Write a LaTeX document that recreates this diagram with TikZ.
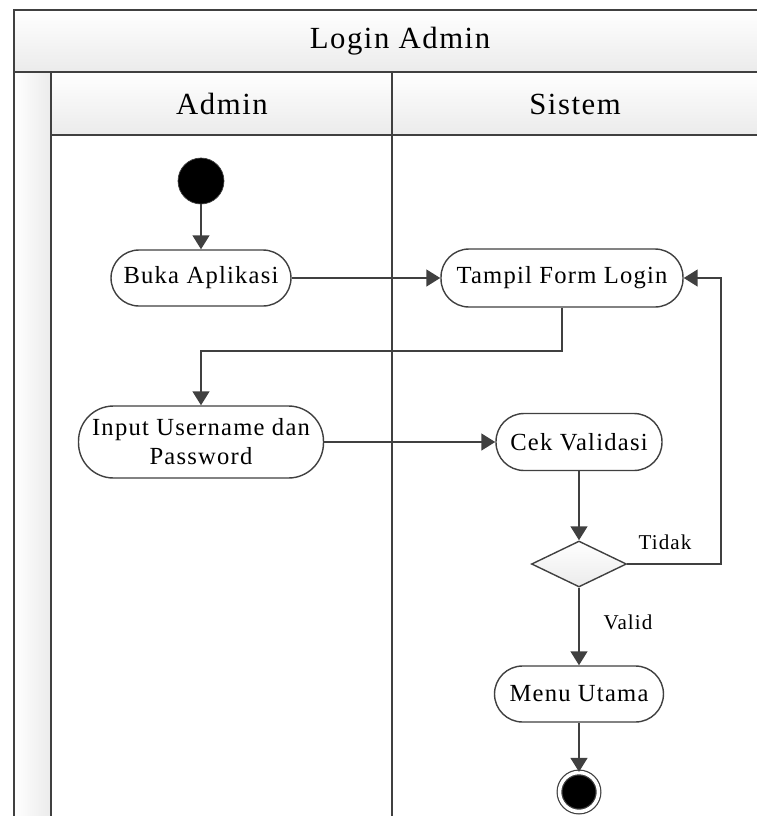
\documentclass[tikz,border=0pt]{standalone}
\usepackage{fontspec}
\setmainfont[LetterSpace=5]{Liberation Serif}
\usetikzlibrary{shapes.geometric, arrows.meta}
\definecolor{lineclr}{HTML}{404040}
\definecolor{headclr}{HTML}{EBEBEB}
\tikzset{
    activity/.style={rectangle, draw=lineclr, line width=0.8pt, fill=white,
        rounded corners=0.56cm, inner xsep=0pt, align=center,
        font=\fontsize{14}{16.5}\selectfont},
    flow/.style={draw=lineclr, line width=1.5pt, -{Triangle[length=8pt,width=9.5pt]}},
    frameline/.style={draw=lineclr, line width=1.1pt},
    guard/.style={font=\fontsize{12}{14}\selectfont},
    header/.style={font=\fontsize{17.5}{20}\selectfont}
}

\begin{document}
\begin{tikzpicture}[x=0.02cm, y=-0.02cm]
        \useasboundingbox (0,0) rectangle (757,816);

        % Draw the title band, the lane headers and the side strip
        \shade[top color=white, bottom color=headclr] (14,10) rectangle (757,72);
        \shade[top color=white, bottom color=headclr] (51,72) rectangle (757,135);
        \shade[left color=white, right color=headclr] (14,72) rectangle (51,816);
        \draw[frameline] (757,10) -- (14,10) -- (14,816);
        \draw[frameline] (14,72) -- (757,72);
        \draw[frameline] (51,135) -- (757,135);
        \draw[frameline] (51,72) -- (51,816);
        \draw[frameline] (392,72) -- (392,816);

        % Label the diagram and the lanes
        \node[header] (title) at (400,41) {Login Admin};
        \node[header] (admin) at (222,104) {Admin};
        \node[header] (sistem) at (575,104) {Sistem};

        % Draw the activities
        \node[circle, fill=black, draw=lineclr, minimum size=0.92cm, inner sep=0pt] (start) at (201,181) {};
        \node[activity, minimum width=3.6cm, minimum height=1.12cm] (buka) at (201,278) {Buka Aplikasi};
        \node[activity, minimum width=4.84cm, minimum height=1.16cm] (tampil) at (562,278) {Tampil Form Login};
        \node[activity, minimum width=4.9cm, minimum height=1.44cm, rounded corners=0.7cm] (input) at (201,442) {Input Username dan\\Password};
        \node[activity, minimum width=3.32cm, minimum height=1.14cm] (cek) at (579,442) {Cek Validasi};
        \node[diamond, draw=lineclr, line width=0.8pt, top color=white, bottom color=headclr,
            minimum width=1.9cm, minimum height=0.92cm, aspect=2, inner sep=0pt] (cabang) at (579,564) {};
        \node[activity, minimum width=3.38cm, minimum height=1.12cm] (menu) at (579,694) {Menu Utama};
        \node[circle, fill=black, draw=lineclr, line width=0.7pt, double=white, double distance=2pt,
            minimum size=0.78cm, inner sep=0pt] (akhir) at (579,792) {};

        % Draw the flows
        \coordinate (belok) at (201,351);
        \coordinate (balik) at (721,278);
        \draw[flow] (start) -- (buka);
        \draw[flow] (buka) -- (tampil);
        \draw[flow] (tampil.south) |- (belok) -- (input.north);
        \draw[flow] (input) -- (cek);
        \draw[flow] (cek) -- (cabang);
        \draw[flow] (cabang.east) -| (balik) -- (tampil.east);
        \draw[flow] (cabang) -- (menu);
        \draw[flow] (menu) -- (akhir);

        % Label the guards
        \node[guard] (tidak) at (665,542) {Tidak};
        \node[guard] (valid) at (628,622) {Valid};
    \end{tikzpicture}
\end{document}
